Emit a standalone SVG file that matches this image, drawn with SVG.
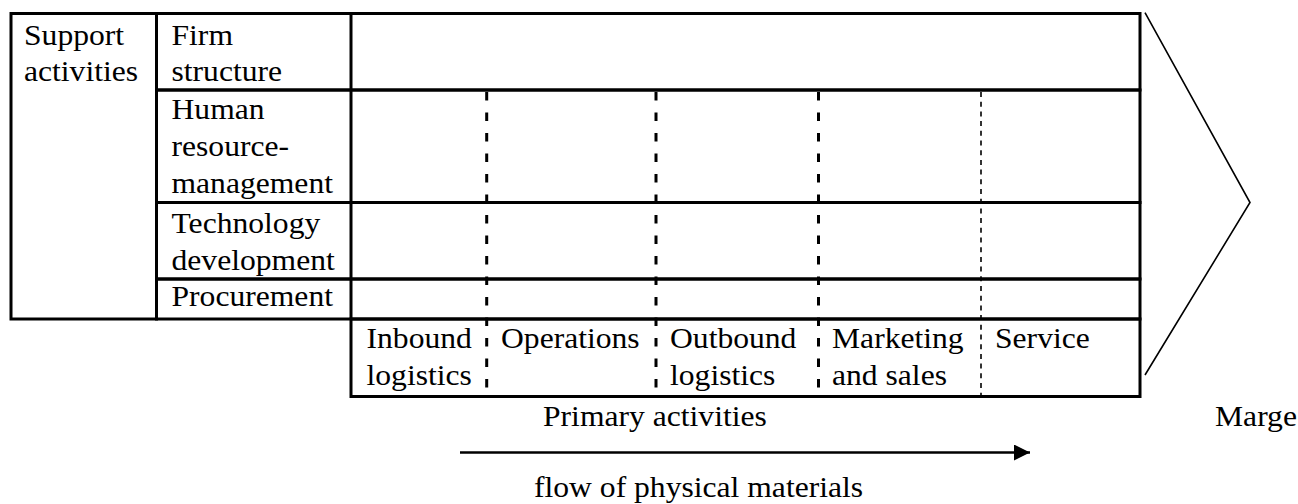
<svg xmlns="http://www.w3.org/2000/svg" width="1298" height="504" viewBox="0 0 1298 504">
<style>
.t{font-family:"Liberation Serif","Times New Roman",serif;font-size:29px;fill:#000}
.b{fill:none;stroke:#000;stroke-width:3}
.d{stroke:#000;stroke-width:3;stroke-dasharray:8.5 12}
.dt{stroke:#000;stroke-width:1.6;stroke-dasharray:5 4.7}
.thin{fill:none;stroke:#000;stroke-width:1.6}
</style>
<defs>
<marker id="ah" markerWidth="16" markerHeight="16" refX="16" refY="8" orient="auto" markerUnits="userSpaceOnUse">
<path d="M0,0 L16,8 L0,16 Z" fill="#000"/>
</marker>
</defs>
<rect width="1298" height="504" fill="#fff"/>

<g id="support-activities">
<rect class="b" x="11" y="13.5" width="145.5" height="305.5"/>
<text class="t" transform="translate(24,44.5) scale(1.09,1)">Support</text>
<text class="t" transform="translate(24,81) scale(1.09,1)">activities</text>
</g>

<g id="firm-structure">
<rect class="b" x="156.5" y="13.5" width="983.5" height="76.5"/>
<line class="b" x1="351" y1="13.5" x2="351" y2="90"/>
<text class="t" transform="translate(171.5,44.5) scale(1.09,1)">Firm</text>
<text class="t" transform="translate(171.5,81) scale(1.09,1)">structure</text>
</g>

<g id="hrm">
<rect class="b" x="156.5" y="90" width="983.5" height="112.5"/>
<line class="b" x1="351" y1="90" x2="351" y2="202.5"/>
<text class="t" transform="translate(171.5,118.5) scale(1.09,1)">Human</text>
<text class="t" transform="translate(171.5,155.5) scale(1.09,1)">resource-</text>
<text class="t" transform="translate(171.5,192.5) scale(1.09,1)">management</text>
</g>

<g id="technology-development">
<rect class="b" x="156.5" y="202.5" width="983.5" height="76.5"/>
<line class="b" x1="351" y1="202.5" x2="351" y2="279"/>
<text class="t" transform="translate(171.5,233) scale(1.09,1)">Technology</text>
<text class="t" transform="translate(171.5,270) scale(1.09,1)">development</text>
</g>

<g id="procurement">
<rect class="b" x="156.5" y="279" width="983.5" height="40"/>
<line class="b" x1="351" y1="279" x2="351" y2="319"/>
<text class="t" transform="translate(171.5,305.5) scale(1.09,1)">Procurement</text>
</g>

<g id="primary-activities">
<rect class="b" x="351" y="319" width="789" height="77.5"/>
<text class="t" transform="translate(543,426) scale(1.09,1)">Primary activities</text>
</g>

<g id="dividers">
<line class="d" x1="486.7" y1="92" x2="486.7" y2="396.5"/>
<line class="d" x1="656" y1="92" x2="656" y2="396.5"/>
<line class="d" x1="818.5" y1="92" x2="818.5" y2="396.5"/>
<line class="dt" x1="981" y1="92" x2="981" y2="396.5"/>
</g>

<g id="inbound-logistics">
<text class="t" transform="translate(366.5,347.7) scale(1.09,1)">Inbound</text>
<text class="t" transform="translate(366.5,384.5) scale(1.09,1)">logistics</text>
</g>
<g id="operations">
<text class="t" transform="translate(501,347.7) scale(1.09,1)">Operations</text>
</g>
<g id="outbound-logistics">
<text class="t" transform="translate(670,347.7) scale(1.09,1)">Outbound</text>
<text class="t" transform="translate(670,384.5) scale(1.09,1)">logistics</text>
</g>
<g id="marketing-sales">
<text class="t" transform="translate(832,347.7) scale(1.09,1)">Marketing</text>
<text class="t" transform="translate(832,384.5) scale(1.09,1)">and sales</text>
</g>
<g id="service">
<text class="t" transform="translate(995,347.7) scale(1.09,1)">Service</text>
</g>

<g id="margin">
<polyline class="thin" points="1145,12.7 1250,202.5 1145,375"/>
<text class="t" transform="translate(1215,425.5) scale(1.09,1)">Marge</text>
</g>

<g id="connectors">
<line x1="460" y1="452.5" x2="1030" y2="452.5" stroke="#000" stroke-width="2.6" marker-end="url(#ah)"/>
</g>

<g id="flow-label">
<text class="t" transform="translate(534,497) scale(1.09,1)">flow of physical materials</text>
</g>
</svg>
